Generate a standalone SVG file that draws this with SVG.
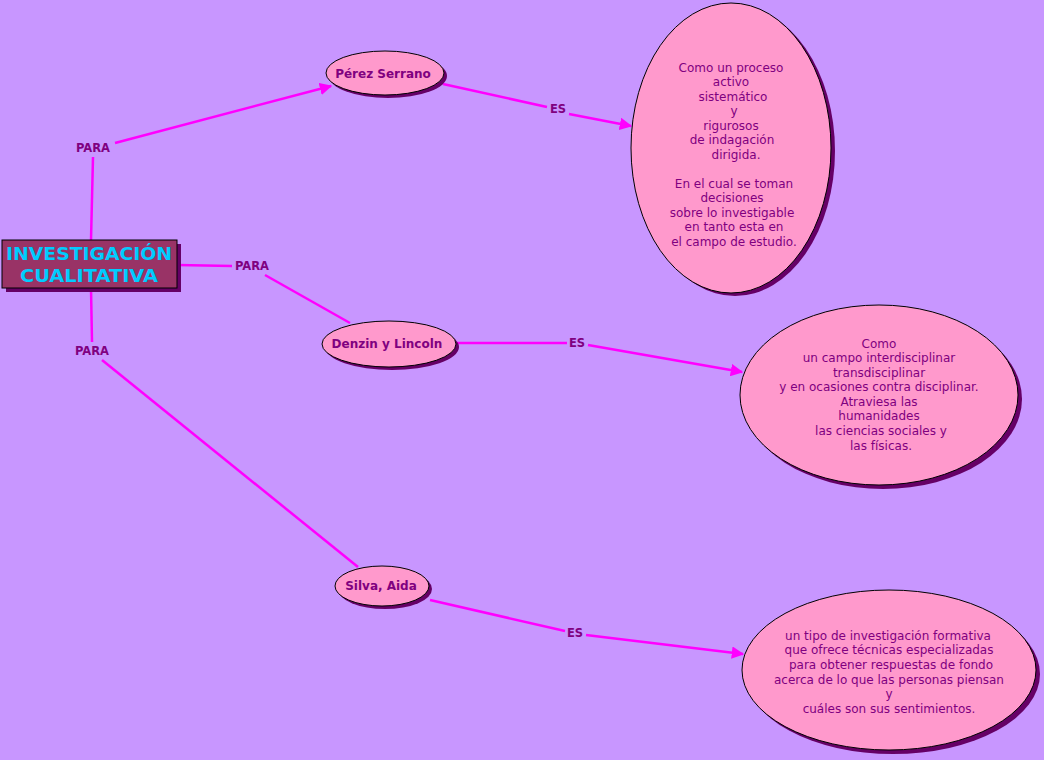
<svg xmlns="http://www.w3.org/2000/svg" width="1044" height="760" viewBox="0 0 1044 760">
<defs>
<style>
.bg{fill:#C896FF}
.sh{fill:#660066}
.node{fill:#FF99CC;stroke:#000;stroke-width:1}
.t{font-family:"DejaVu Sans",Verdana,sans-serif;font-size:12px;fill:#800080;text-anchor:middle}
.b{font-weight:bold}
.lbl{font-family:"DejaVu Sans",Verdana,sans-serif;font-size:11.5px;font-weight:bold;fill:#800080;text-anchor:middle}
.root{font-family:"DejaVu Sans",Verdana,sans-serif;font-size:17.5px;font-weight:bold;fill:#00CCFF;text-anchor:middle}
.ln{stroke:#FF00FF;stroke-width:2.5;fill:none}
</style>
<marker id="ar" viewBox="0 0 10 10" refX="9" refY="5" markerWidth="5" markerHeight="5" orient="auto" markerUnits="strokeWidth">
<path d="M0,0 L10,5 L0,10 z" fill="#FF00FF"/>
</marker>
</defs>
<rect class="bg" x="0" y="0" width="1044" height="760"/>

<g id="connectors">
<line class="ln" x1="91" y1="240" x2="93" y2="157"/>
<line class="ln" x1="115" y1="143" x2="331" y2="86" marker-end="url(#ar)"/>
<line class="ln" x1="177" y1="265" x2="232" y2="266"/>
<line class="ln" x1="265" y1="275" x2="350" y2="323"/>
<line class="ln" x1="91" y1="288" x2="92" y2="342"/>
<line class="ln" x1="102" y1="360" x2="358" y2="567"/>
<line class="ln" x1="443" y1="84" x2="547" y2="107"/>
<line class="ln" x1="569" y1="114" x2="631" y2="126" marker-end="url(#ar)"/>
<line class="ln" x1="457" y1="343" x2="567" y2="343"/>
<line class="ln" x1="588" y1="345" x2="742" y2="372" marker-end="url(#ar)"/>
<line class="ln" x1="430" y1="600" x2="565" y2="631"/>
<line class="ln" x1="586" y1="635" x2="743" y2="654" marker-end="url(#ar)"/>
<text class="lbl" x="93" y="152">PARA</text>
<text class="lbl" x="252" y="270">PARA</text>
<text class="lbl" x="92" y="355">PARA</text>
<text class="lbl" x="558" y="113">ES</text>
<text class="lbl" x="577" y="347">ES</text>
<text class="lbl" x="575" y="637">ES</text>
</g>

<g id="root">
<rect class="sh" x="6" y="244" width="175" height="48"/>
<rect x="2" y="240" width="175" height="48" fill="#993366" stroke="#000" stroke-width="1"/>
<text class="root" x="89" y="260" textLength="166" lengthAdjust="spacingAndGlyphs">INVESTIGACIÓN</text>
<text class="root" x="89" y="282" textLength="138" lengthAdjust="spacingAndGlyphs">CUALITATIVA</text>
</g>

<g id="perez">
<ellipse class="sh" cx="388" cy="76" rx="59" ry="22"/>
<ellipse class="node" cx="385" cy="73" rx="59" ry="22"/>
<text class="t b" x="383" y="78">Pérez Serrano</text>
</g>

<g id="denzin">
<ellipse class="sh" cx="392" cy="347" rx="67" ry="23"/>
<ellipse class="node" cx="389" cy="344" rx="67" ry="23"/>
<text class="t b" x="387" y="348">Denzin y Lincoln</text>
</g>

<g id="silva">
<ellipse class="sh" cx="385" cy="589" rx="47" ry="20"/>
<ellipse class="node" cx="382" cy="586" rx="47" ry="20"/>
<text class="t b" x="381" y="590">Silva, Aida</text>
</g>

<g id="def1">
<ellipse class="sh" cx="735" cy="151" rx="100" ry="145"/>
<ellipse class="node" cx="731" cy="148" rx="100" ry="145"/>
<text class="t" x="731" y="72">Como un proceso</text>
<text class="t" x="731" y="86">activo</text>
<text class="t" x="733" y="101">sistemático</text>
<text class="t" x="734" y="115">y</text>
<text class="t" x="731" y="130">rigurosos</text>
<text class="t" x="732" y="144">de indagación</text>
<text class="t" x="736" y="159">dirigida.</text>
<text class="t" x="734" y="188">En el cual se toman</text>
<text class="t" x="732" y="202">decisiones</text>
<text class="t" x="732" y="217">sobre lo investigable</text>
<text class="t" x="734" y="231">en tanto esta en</text>
<text class="t" x="734" y="246">el campo de estudio.</text>
</g>

<g id="def2">
<ellipse class="sh" cx="883" cy="399" rx="139" ry="90"/>
<ellipse class="node" cx="879" cy="395" rx="139" ry="90"/>
<text class="t" x="879" y="348">Como</text>
<text class="t" x="879" y="362">un campo interdisciplinar</text>
<text class="t" x="879" y="377">transdisciplinar</text>
<text class="t" x="879" y="391">y en ocasiones contra disciplinar.</text>
<text class="t" x="879" y="406">Atraviesa las</text>
<text class="t" x="879" y="420">humanidades</text>
<text class="t" x="881" y="435">las ciencias sociales y</text>
<text class="t" x="881" y="450">las físicas.</text>
</g>

<g id="def3">
<ellipse class="sh" cx="893" cy="674" rx="147" ry="80"/>
<ellipse class="node" cx="889" cy="670" rx="147" ry="80"/>
<text class="t" x="888" y="640">un tipo de investigación formativa</text>
<text class="t" x="889" y="654">que ofrece técnicas especializadas</text>
<text class="t" x="891" y="669">para obtener respuestas de fondo</text>
<text class="t" x="889" y="684">acerca de lo que las personas piensan</text>
<text class="t" x="889" y="698">y</text>
<text class="t" x="889" y="713">cuáles son sus sentimientos.</text>
</g>
</svg>
